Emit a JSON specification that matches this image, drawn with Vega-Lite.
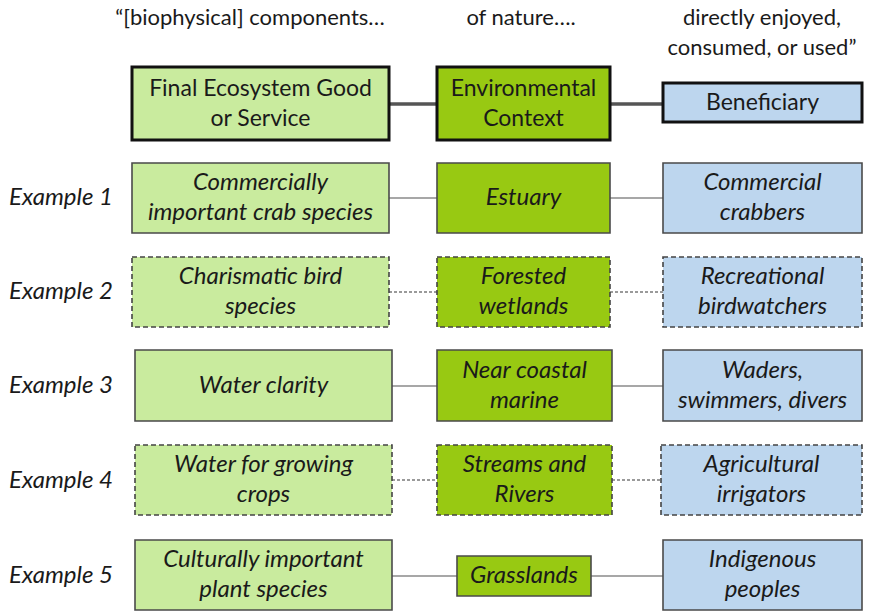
{
  "$schema": "https://vega.github.io/schema/vega-lite/v6.json",
  "width": 871,
  "height": 612,
  "autosize": "none",
  "padding": 0,
  "background": "white",
  "config": {"view": {"stroke": null}},
  "datasets": {
    "nodes": [
      {"row": "Header", "col": "FEGS", "style": "header", "x1": 132, "x2": 389, "y1": 67, "y2": 140, "label": "Final Ecosystem Good\nor Service"},
      {"row": "Header", "col": "Context", "style": "header", "x1": 437, "x2": 610, "y1": 67, "y2": 140, "label": "Environmental\nContext"},
      {"row": "Header", "col": "Beneficiary", "style": "header", "x1": 663, "x2": 862, "y1": 83, "y2": 122, "label": "Beneficiary"},
      {"row": "Example 1", "col": "FEGS", "style": "solid", "x1": 132, "x2": 389, "y1": 163, "y2": 233, "label": "Commercially\nimportant crab species"},
      {"row": "Example 1", "col": "Context", "style": "solid", "x1": 437, "x2": 610, "y1": 163, "y2": 233, "label": "Estuary"},
      {"row": "Example 1", "col": "Beneficiary", "style": "solid", "x1": 663, "x2": 862, "y1": 163, "y2": 233, "label": "Commercial\ncrabbers"},
      {"row": "Example 2", "col": "FEGS", "style": "dashed", "x1": 132, "x2": 389, "y1": 257, "y2": 327, "label": "Charismatic bird\nspecies"},
      {"row": "Example 2", "col": "Context", "style": "dashed", "x1": 437, "x2": 610, "y1": 257, "y2": 327, "label": "Forested\nwetlands"},
      {"row": "Example 2", "col": "Beneficiary", "style": "dashed", "x1": 663, "x2": 862, "y1": 257, "y2": 327, "label": "Recreational\nbirdwatchers"},
      {"row": "Example 3", "col": "FEGS", "style": "solid", "x1": 135, "x2": 392, "y1": 350, "y2": 421, "label": "Water clarity"},
      {"row": "Example 3", "col": "Context", "style": "solid", "x1": 437, "x2": 612, "y1": 350, "y2": 421, "label": "Near coastal\nmarine"},
      {"row": "Example 3", "col": "Beneficiary", "style": "solid", "x1": 663, "x2": 862, "y1": 350, "y2": 421, "label": "Waders,\nswimmers, divers"},
      {"row": "Example 4", "col": "FEGS", "style": "dashed", "x1": 135, "x2": 392, "y1": 445, "y2": 515, "label": "Water for growing\ncrops"},
      {"row": "Example 4", "col": "Context", "style": "dashed", "x1": 437, "x2": 612, "y1": 445, "y2": 515, "label": "Streams and\nRivers"},
      {"row": "Example 4", "col": "Beneficiary", "style": "dashed", "x1": 661, "x2": 862, "y1": 445, "y2": 515, "label": "Agricultural\nirrigators"},
      {"row": "Example 5", "col": "FEGS", "style": "solid", "x1": 135, "x2": 392, "y1": 540, "y2": 610, "label": "Culturally important\nplant species"},
      {"row": "Example 5", "col": "Context", "style": "solid", "x1": 457, "x2": 591, "y1": 556, "y2": 596, "label": "Grasslands"},
      {"row": "Example 5", "col": "Beneficiary", "style": "solid", "x1": 663, "x2": 862, "y1": 540, "y2": 610, "label": "Indigenous\npeoples"}
    ],
    "links": [
      {"row": "Header", "style": "header", "x1": 389, "x2": 437, "y": 104},
      {"row": "Header", "style": "header", "x1": 610, "x2": 663, "y": 104},
      {"row": "Example 1", "style": "solid", "x1": 389, "x2": 437, "y": 198},
      {"row": "Example 1", "style": "solid", "x1": 610, "x2": 663, "y": 198},
      {"row": "Example 2", "style": "dashed", "x1": 389, "x2": 437, "y": 292},
      {"row": "Example 2", "style": "dashed", "x1": 610, "x2": 663, "y": 292},
      {"row": "Example 3", "style": "solid", "x1": 392, "x2": 437, "y": 386},
      {"row": "Example 3", "style": "solid", "x1": 612, "x2": 663, "y": 386},
      {"row": "Example 4", "style": "dashed", "x1": 392, "x2": 437, "y": 480},
      {"row": "Example 4", "style": "dashed", "x1": 612, "x2": 661, "y": 480},
      {"row": "Example 5", "style": "solid", "x1": 392, "x2": 457, "y": 576},
      {"row": "Example 5", "style": "solid", "x1": 591, "x2": 663, "y": 576}
    ],
    "rowlabels": [
      {"label": "Example 1", "x": 61, "y": 198},
      {"label": "Example 2", "x": 61, "y": 292},
      {"label": "Example 3", "x": 61, "y": 386},
      {"label": "Example 4", "x": 61, "y": 481},
      {"label": "Example 5", "x": 61, "y": 576}
    ],
    "captions": [
      {"label": "“[biophysical] components…", "x": 250, "y": 18},
      {"label": "of nature….", "x": 521, "y": 18},
      {"label": "directly enjoyed,", "x": 762, "y": 18},
      {"label": "consumed, or used”", "x": 762, "y": 48}
    ]
  },
  "layer": [
    {
      "data": {"name": "links"},
      "transform": [{"filter": "datum.style === 'header'"}],
      "mark": {"type": "rule", "stroke": "#555555", "strokeWidth": 3.5},
      "encoding": {
        "x": {"field": "x1", "type": "quantitative", "scale": {"domain": [0, 871], "nice": false, "zero": false}, "axis": null},
        "x2": {"field": "x2"},
        "y": {"field": "y", "type": "quantitative", "scale": {"domain": [612, 0], "nice": false, "zero": false}, "axis": null}
      }
    },
    {
      "data": {"name": "links"},
      "transform": [{"filter": "datum.style === 'solid'"}],
      "mark": {"type": "rule", "stroke": "#8a8a8a", "strokeWidth": 1.5},
      "encoding": {
        "x": {"field": "x1", "type": "quantitative", "axis": null},
        "x2": {"field": "x2"},
        "y": {"field": "y", "type": "quantitative", "axis": null}
      }
    },
    {
      "data": {"name": "links"},
      "transform": [{"filter": "datum.style === 'dashed'"}],
      "mark": {"type": "rule", "stroke": "#7a7a7a", "strokeWidth": 1.3, "strokeDash": [3, 2]},
      "encoding": {
        "x": {"field": "x1", "type": "quantitative", "axis": null},
        "x2": {"field": "x2"},
        "y": {"field": "y", "type": "quantitative", "axis": null}
      }
    },
    {
      "data": {"name": "nodes"},
      "transform": [{"filter": "datum.style === 'header'"}],
      "mark": {"type": "rect", "stroke": "#111111", "strokeWidth": 3},
      "encoding": {
        "x": {"field": "x1", "type": "quantitative", "axis": null},
        "x2": {"field": "x2"},
        "y": {"field": "y1", "type": "quantitative", "axis": null},
        "y2": {"field": "y2"},
        "fill": {"field": "col", "type": "nominal", "scale": {"domain": ["FEGS", "Context", "Beneficiary"], "range": ["#c9eb9e", "#98c912", "#bdd6ee"]}, "legend": null}
      }
    },
    {
      "data": {"name": "nodes"},
      "transform": [{"filter": "datum.style === 'solid'"}],
      "mark": {"type": "rect", "stroke": "#4a4a4a", "strokeWidth": 1.6},
      "encoding": {
        "x": {"field": "x1", "type": "quantitative", "axis": null},
        "x2": {"field": "x2"},
        "y": {"field": "y1", "type": "quantitative", "axis": null},
        "y2": {"field": "y2"},
        "fill": {"field": "col", "type": "nominal", "legend": null}
      }
    },
    {
      "data": {"name": "nodes"},
      "transform": [{"filter": "datum.style === 'dashed'"}],
      "mark": {"type": "rect", "stroke": "#444444", "strokeWidth": 1.6, "strokeDash": [5, 3]},
      "encoding": {
        "x": {"field": "x1", "type": "quantitative", "axis": null},
        "x2": {"field": "x2"},
        "y": {"field": "y1", "type": "quantitative", "axis": null},
        "y2": {"field": "y2"},
        "fill": {"field": "col", "type": "nominal", "legend": null}
      }
    },
    {
      "data": {"name": "nodes"},
      "transform": [
        {"filter": "datum.style === 'header'"},
        {"calculate": "(datum.x1 + datum.x2) / 2", "as": "cx"},
        {"calculate": "(datum.y1 + datum.y2) / 2 - (indexof(datum.label, '\\n') >= 0 ? 15 : 0)", "as": "cy"}
      ],
      "mark": {"type": "text", "font": "Lato", "fontSize": 23, "lineHeight": 30, "lineBreak": "\n", "align": "center", "baseline": "middle", "color": "#1a1a1a"},
      "encoding": {
        "x": {"field": "cx", "type": "quantitative", "axis": null},
        "y": {"field": "cy", "type": "quantitative", "axis": null},
        "text": {"field": "label"}
      }
    },
    {
      "data": {"name": "nodes"},
      "transform": [
        {"filter": "datum.style !== 'header'"},
        {"calculate": "(datum.x1 + datum.x2) / 2", "as": "cx"},
        {"calculate": "(datum.y1 + datum.y2) / 2 - (indexof(datum.label, '\\n') >= 0 ? 15 : 0)", "as": "cy"}
      ],
      "mark": {"type": "text", "font": "Lato", "fontSize": 24, "fontStyle": "italic", "lineHeight": 30, "lineBreak": "\n", "align": "center", "baseline": "middle", "color": "#1a1a1a"},
      "encoding": {
        "x": {"field": "cx", "type": "quantitative", "axis": null},
        "y": {"field": "cy", "type": "quantitative", "axis": null},
        "text": {"field": "label"}
      }
    },
    {
      "data": {"name": "rowlabels"},
      "mark": {"type": "text", "font": "Lato", "fontSize": 24, "fontStyle": "italic", "align": "center", "baseline": "middle", "color": "#1a1a1a"},
      "encoding": {
        "x": {"field": "x", "type": "quantitative", "axis": null},
        "y": {"field": "y", "type": "quantitative", "axis": null},
        "text": {"field": "label"}
      }
    },
    {
      "data": {"name": "captions"},
      "mark": {"type": "text", "font": "Lato", "fontSize": 22, "align": "center", "baseline": "middle", "color": "#1a1a1a"},
      "encoding": {
        "x": {"field": "x", "type": "quantitative", "axis": null},
        "y": {"field": "y", "type": "quantitative", "axis": null},
        "text": {"field": "label"}
      }
    }
  ]
}
